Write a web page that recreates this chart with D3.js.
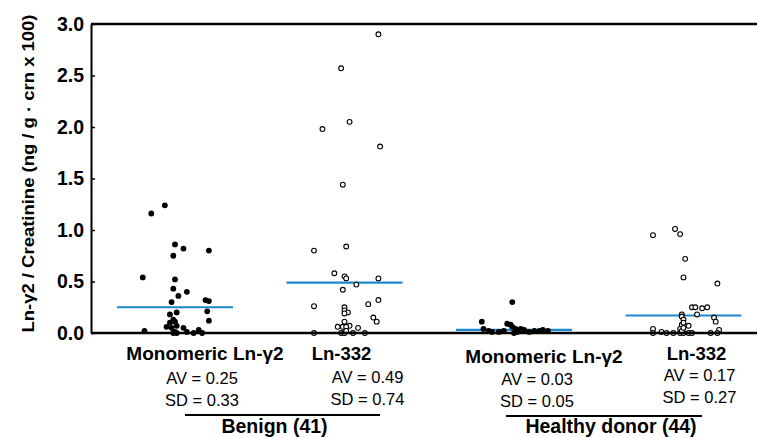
<!DOCTYPE html>
<html>
<head>
<meta charset="utf-8">
<script src="https://cdn.jsdelivr.net/npm/d3@7"></script>
<style>
  body { margin: 0; background: #fff; }
  svg { font-family: "Liberation Sans", Arial, Helvetica, sans-serif; }
</style>
</head>
<body>
<svg width="757" height="438"></svg>
<script>
// group labels / summary stats
const groups = ["Monomeric Ln-γ2", "Ln-332", "Monomeric Ln-γ2", "Ln-332"];
const filled = [true, false, true, false];
const avg = [0.25, 0.49, 0.03, 0.17];
const sd = [0.33, 0.74, 0.05, 0.27];
const cohorts = ["Benign (41)", "Healthy donor (44)"];
const yTicks = [0, 0.5, 1.0, 1.5, 2.0, 2.5, 3.0];

// points per group: [value, jitter in group units]
const benignMono = [
  [1.24, -0.06], [1.16, -0.14], [0.86, 0.00], [0.82, 0.05], [0.80, 0.20], [0.75, -0.01],
  [0.54, -0.19], [0.52, 0.00], [0.43, -0.01], [0.40, 0.07], [0.36, 0.02], [0.32, 0.18],
  [0.31, 0.20], [0.30, -0.02], [0.21, 0.19], [0.20, 0.01], [0.18, -0.03], [0.13, -0.01],
  [0.12, 0.20], [0.11, 0.00], [0.10, -0.03], [0.06, -0.05], [0.07, 0.01], [0.05, 0.05],
  [0.05, -0.02], [0.02, -0.18], [0.01, 0.00], [0.00, -0.01], [0.00, 0.01], [0.01, 0.07],
  [0.00, 0.11], [0.03, 0.14], [0.00, 0.16]
];
const benign332 = [
  [2.90, 0.20], [2.57, -0.02], [2.05, 0.03], [1.98, -0.13], [1.81, 0.21], [1.44, -0.01],
  [0.80, -0.18], [0.84, 0.01], [0.58, -0.06], [0.55, 0.00], [0.53, 0.01], [0.53, 0.20],
  [0.47, 0.07], [0.42, -0.01], [0.26, -0.18], [0.32, 0.20], [0.28, 0.14], [0.25, 0.00],
  [0.22, 0.00], [0.20, 0.02], [0.19, 0.00], [0.15, 0.17], [0.11, 0.19], [0.11, 0.00],
  [0.06, -0.04], [0.07, 0.03], [0.06, -0.01], [0.06, 0.01], [0.05, 0.08], [0.00, -0.18],
  [0.00, -0.02], [0.00, 0.00], [0.00, 0.05], [0.00, 0.12], [0.02, 0.01]
];
const healthyMono = [
  [0.30, -0.01], [0.11, -0.19], [0.04, -0.18], [0.02, -0.15], [0.01, -0.13], [0.01, -0.09],
  [0.02, -0.06], [0.09, -0.04], [0.08, -0.02], [0.06, -0.01], [0.04, 0.01], [0.00, 0.00],
  [0.01, 0.02], [0.04, 0.04], [0.03, 0.06], [0.01, 0.09], [0.02, 0.12], [0.02, 0.15],
  [0.03, 0.17], [0.02, 0.20]
];
const healthy332 = [
  [0.95, -0.18], [1.01, -0.05], [0.96, -0.02], [0.72, 0.01], [0.54, 0.00], [0.48, 0.20],
  [0.25, 0.05], [0.25, 0.07], [0.24, 0.11], [0.25, 0.14], [0.18, 0.08], [0.18, -0.01],
  [0.16, -0.01], [0.13, 0.00], [0.15, 0.18], [0.11, 0.19], [0.07, 0.03], [0.08, -0.01],
  [0.04, -0.02], [0.04, -0.18], [0.03, 0.21], [0.00, -0.18], [0.01, -0.13], [0.00, -0.10],
  [0.00, -0.06], [0.00, -0.02], [0.00, 0.00], [0.00, 0.03], [0.00, 0.05], [0.00, 0.16],
  [0.00, 0.20], [0.02, -0.01], [0.05, 0.00], [0.10, 0.00]
];
const points = [benignMono, benign332, healthyMono, healthy332];

const svg = d3.select("svg");
const blue = "#1b88d0";

const x = d3.scaleLinear().domain([1, 4]).range([175, 683.5]);
const y = d3.scaleLinear().domain([0, 3]).range([333, 24]);
const axisX = 91, rightX = 757;

// top frame line
svg.append("line")
  .attr("x1", axisX).attr("x2", rightX)
  .attr("y1", y(3)).attr("y2", y(3))
  .attr("stroke", "#000").attr("stroke-width", 2.4);

// y axis
const yAxis = d3.axisLeft(y)
  .tickValues(yTicks)
  .tickFormat(d3.format(".1f"))
  .tickSizeInner(-4)
  .tickSizeOuter(0)
  .tickPadding(7);

const gy = svg.append("g")
  .attr("transform", `translate(${axisX},0)`)
  .call(yAxis);
gy.select(".domain").attr("stroke-width", 2);
gy.selectAll(".tick line").attr("stroke-width", 1.5);
gy.selectAll(".tick text")
  .attr("font-size", 19.5)
  .attr("font-weight", "bold")
  .attr("font-family", "Liberation Sans, Arial, sans-serif")
  .attr("fill", "#000");

svg.append("text")
  .attr("transform", `translate(34,${(y(0) + y(3)) / 2 - 5}) rotate(-90)`)
  .attr("text-anchor", "middle")
  .attr("font-size", 17)
  .attr("font-weight", "bold")
  .attr("textLength", 318)
  .attr("lengthAdjust", "spacingAndGlyphs")
  .text("Ln-γ2 / Creatinine (ng / g · crn x 100)");

// mean lines
svg.append("g")
  .selectAll("line")
  .data(avg)
  .join("line")
  .attr("x1", (d, i) => x(i + 1) - 58)
  .attr("x2", (d, i) => x(i + 1) + 58)
  .attr("y1", d => y(d))
  .attr("y2", d => y(d))
  .attr("stroke", blue)
  .attr("stroke-width", 2.2);

// points
points.forEach((pts, i) => {
  svg.append("g")
    .selectAll("circle")
    .data(pts)
    .join("circle")
    .attr("cx", d => x(i + 1 + d[1]))
    .attr("cy", d => y(d[0]))
    .attr("r", filled[i] ? 2.9 : 2.4)
    .attr("fill", filled[i] ? "#000" : "#fff")
    .attr("stroke", "#000")
    .attr("stroke-width", filled[i] ? 0 : 1.1);
});

// baseline drawn above the points
svg.append("line")
  .attr("x1", axisX).attr("x2", rightX)
  .attr("y1", y(0)).attr("y2", y(0))
  .attr("stroke", "#000").attr("stroke-width", 2.4);

// group labels and stats
const labelDx = [30, -3, 30, 13];
const labelY = [360, 360, 363, 360];
const statDx = [27, 23, 23, 16];
const statY = [384, 383, 385, 381];

svg.append("g")
  .selectAll("text")
  .data(groups)
  .join("text")
  .attr("x", (d, i) => x(i + 1) + labelDx[i])
  .attr("y", (d, i) => labelY[i])
  .attr("text-anchor", "middle")
  .attr("font-size", (d, i) => i % 2 === 0 ? 19 : 18.5)
  .attr("font-weight", "bold")
  .text(d => d);

const stats = svg.append("g")
  .selectAll("text")
  .data(avg)
  .join("text")
  .attr("x", (d, i) => x(i + 1) + statDx[i])
  .attr("y", (d, i) => statY[i])
  .attr("text-anchor", "middle")
  .attr("font-size", 16.5);
stats.append("tspan").text(d => `AV = ${d.toFixed(2)}`);
stats.append("tspan")
  .attr("x", (d, i) => x(i + 1) + statDx[i])
  .attr("dy", 22)
  .text((d, i) => `SD = ${sd[i].toFixed(2)}`);

// cohort brackets
const cohortSpan = [[185, 380], [506, 702]];
const cohortLineY = [415, 416];
svg.append("g")
  .selectAll("line")
  .data(cohorts)
  .join("line")
  .attr("x1", (d, i) => cohortSpan[i][0])
  .attr("x2", (d, i) => cohortSpan[i][1])
  .attr("y1", (d, i) => cohortLineY[i])
  .attr("y2", (d, i) => cohortLineY[i])
  .attr("stroke", "#000")
  .attr("stroke-width", 2);

svg.append("g")
  .selectAll("text")
  .data(cohorts)
  .join("text")
  .attr("x", (d, i) => (cohortSpan[i][0] + cohortSpan[i][1]) / 2 - 8 * (1 - i) + 7 * i)
  .attr("y", 433)
  .attr("text-anchor", "middle")
  .attr("font-size", 19.5)
  .attr("font-weight", "bold")
  .text(d => d);
</script>
</body>
</html>
